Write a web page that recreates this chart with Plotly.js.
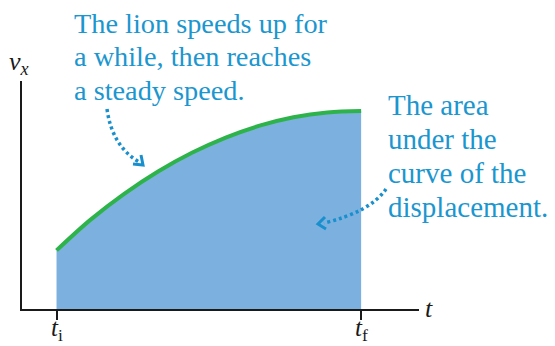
<!DOCTYPE html>
<html>
<head>
<meta charset="utf-8">
<script src="https://cdn.plot.ly/plotly-3.0.1.min.js"></script>
<style>
  html, body { margin: 0; padding: 0; background: #ffffff; }
  #chart { width: 555px; height: 346px; }
  /* every label in this figure is set in a Times-style serif */
  #chart text {
    font-family: 'Liberation Serif', 'DejaVu Serif', 'Noto Serif', 'Times New Roman',
                 Times, 'Nimbus Roman', 'Nimbus Roman No9 L', FreeSerif, Tinos, serif !important;
  }
</style>
</head>
<body>
<div id="chart"></div>
<script>
// Lion's velocity v_x over time, from t_i (t = 1) to t_f (t = 10)
const timeValues = [1, 2, 3, 4, 5, 6, 7, 8, 9, 10];
const velocityValues = [2.57, 3.91, 5.05, 6.03, 6.85, 7.52, 8.04, 8.41, 8.62, 8.68];
const tickValues = [1, 10];
const tickLabels = ['<i>t</i><sub>i</sub>', '<i>t</i><sub>f</sub>'];

// callout wording, one entry per printed line
const upperNote = ['The lion speeds up for', 'a while, then reaches', 'a steady speed.'];
const sideNote = ['The area', 'under the', 'curve of the', 'displacement.'];

const SERIF = 'Liberation Serif, DejaVu Serif, serif';
const INK = '#1a1a1a';
const NOTE_BLUE = '#1b96cf';
const DOT_BLUE = '#1a8fcd';

// plot-area geometry in page pixels, used to place the callouts
const L = 22, T = 81, W = 397, H = 228;
const px = x => (x - L) / W;
const py = y => (T + H - y) / H;
const pathOf = pts => pts.map(p => (typeof p === 'string' ? p : px(p[0]) + ',' + py(p[1]))).join(' ');

const trace = {
  x: timeValues,
  y: velocityValues,
  type: 'scatter',
  mode: 'lines',
  line: { color: '#2eb34b', width: 4, shape: 'spline', smoothing: 1 },
  fill: 'tozeroy',
  fillcolor: '#7cb1df',
  hoverinfo: 'skip'
};

const dotted = { color: DOT_BLUE, width: 3.5, dash: '3px,3px' };
const head = { color: DOT_BLUE, width: 3 };

// t_i / t_f labels sit just under their ticks
const tickNotes = tickValues.map((v, i) => ({
  xref: 'x', yref: 'paper', x: v, y: py(329),
  xanchor: 'center', yanchor: 'middle', showarrow: false,
  text: tickLabels[i],
  font: { family: SERIF, size: 25, color: INK }
}));

// a block of note lines, left-aligned at x0, first baseline at y0, fixed leading
const noteLines = (lines, x0, y0, leading, size) => lines.map((s, i) => ({
  xref: 'paper', yref: 'paper',
  x: px(x0), y: py(y0 + i * leading - 0.34 * size),
  xanchor: 'left', yanchor: 'middle', align: 'left', showarrow: false,
  borderpad: 0, borderwidth: 0,
  text: s,
  font: { family: SERIF, size: size, color: NOTE_BLUE }
}));

const layout = {
  width: 555,
  height: 346,
  margin: { l: L, r: 555 - L - W, t: T, b: 346 - T - H, pad: 0 },
  paper_bgcolor: '#ffffff',
  plot_bgcolor: '#ffffff',
  showlegend: false,
  font: { family: SERIF },
  xaxis: {
    range: [-0.02, 11.71],
    showgrid: false,
    zeroline: false,
    showline: true,
    linecolor: INK,
    linewidth: 2,
    tickmode: 'array',
    tickvals: tickValues,
    ticks: 'outside',
    ticklen: 9,
    tickwidth: 2,
    tickcolor: INK,
    showticklabels: false
  },
  yaxis: {
    range: [0, 10],
    showgrid: false,
    zeroline: false,
    showline: true,
    linecolor: INK,
    linewidth: 2,
    ticks: '',
    showticklabels: false
  },
  annotations: tickNotes
    .concat(noteLines(upperNote, 74, 33, 33.5, 28.3))
    .concat(noteLines(sideNote, 388, 115, 34, 29))
    .concat([
      {
        xref: 'paper', yref: 'paper', x: px(19), y: py(63),
        xanchor: 'center', yanchor: 'middle', showarrow: false,
        text: '<i>v<sub>x</sub></i>',
        font: { family: SERIF, size: 26, color: INK }
      },
      {
        xref: 'paper', yref: 'paper', x: px(429), y: py(308),
        xanchor: 'center', yanchor: 'middle', showarrow: false,
        text: '<i>t</i>',
        font: { family: SERIF, size: 26, color: INK }
      }
    ]),
  shapes: [
    // callout from the upper note down to the curve
    { type: 'path', xref: 'paper', yref: 'paper', line: dotted,
      path: pathOf(['M', [107, 109], 'Q', [112, 146], [139, 162]]) },
    { type: 'path', xref: 'paper', yref: 'paper', line: head,
      path: pathOf(['M', [133, 164], 'L', [143, 165], 'L', [141, 155]]) },
    // callout from the right-hand note into the shaded area
    { type: 'path', xref: 'paper', yref: 'paper', line: dotted,
      path: pathOf(['M', [386, 189], 'Q', [370, 212], [324, 223]]) },
    { type: 'path', xref: 'paper', yref: 'paper', line: head,
      path: pathOf(['M', [325, 217], 'L', [318, 224], 'L', [326, 229]]) }
  ]
};

Plotly.newPlot('chart', [trace], layout, { staticPlot: true, displayModeBar: false });
</script>
</body>
</html>
